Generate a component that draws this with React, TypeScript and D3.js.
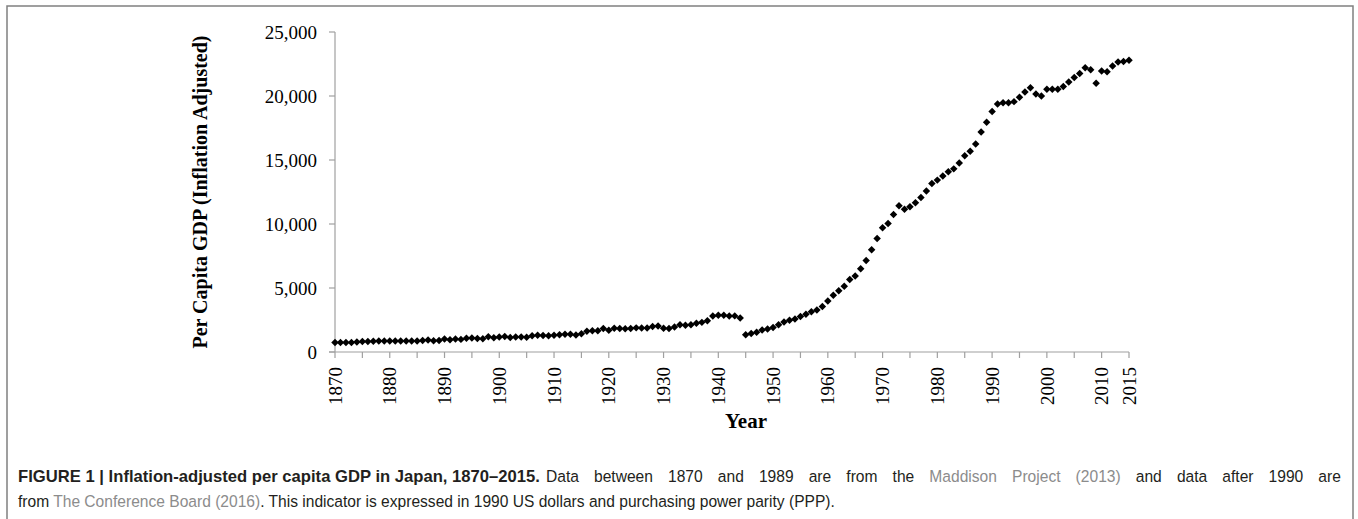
import React, { useEffect, useRef, useState } from "react";
import * as d3 from "d3";

const startYear = 1870;
const gdpValues = [
  737, 741, 746, 750, 787, 827, 818, 836, 857, 862,
  863, 853, 851, 852, 853, 862, 906, 930, 886, 901,
  1012, 948, 1015, 986, 1081, 1094, 1046, 1044, 1200, 1122,
  1180, 1208, 1125, 1180, 1177, 1144, 1266, 1302, 1296, 1270,
  1304, 1356, 1384, 1387, 1327, 1430, 1630, 1665, 1668, 1827,
  1696, 1860, 1831, 1809, 1836, 1885, 1872, 1870, 1991, 2026,
  1850, 1837, 1962, 2122, 2098, 2120, 2244, 2315, 2449, 2816,
  2874, 2873, 2818, 2822, 2659, 1346, 1444, 1541, 1725, 1800,
  1921, 2126, 2336, 2474, 2582, 2771, 2948, 3136, 3289, 3554,
  3986, 4426, 4777, 5129, 5668, 5934, 6506, 7152, 7983, 8874,
  9714, 10040, 10734, 11434, 11145, 11344, 11669, 12064, 12585, 13163,
  13428, 13754, 14078, 14307, 14773, 15331, 15679, 16251, 17185, 17943,
  18789, 19375, 19480, 19480, 19560, 19900, 20310, 20650, 20150, 20000,
  20520, 20520, 20520, 20750, 21100, 21450, 21750, 22200, 22050, 21000,
  21950, 21900, 22350, 22650, 22700, 22800,
];
const years = gdpValues.map((_, i) => startYear + i);
const yTicks = [0, 5000, 10000, 15000, 20000, 25000];
const xTickYears = d3.range(1870, 2016, 5);
const xLabelYears = [1870, 1880, 1890, 1900, 1910, 1920, 1930, 1940, 1950, 1960, 1970, 1980, 1990, 2000, 2010, 2015];
const yAxisTitle = "Per Capita GDP (Inflation Adjusted)";
const xAxisTitle = "Year";
const captionBold = "FIGURE 1 | Inflation-adjusted per capita GDP in Japan, 1870–2015.";

const W = 1358;
const H = 519;
const plot = { left: 335, right: 1129, top: 32, bottom: 352 };
const serif = "'Liberation Serif', 'Times New Roman', serif";
const sans = "'Liberation Sans', Arial, sans-serif";

const cap = { left: 18, boldEnd: 540, right: 1341, line2End: 835, y1: 482, y2: 507 };
const BASE = 14;

export default function App() {
  const x = d3.scaleLinear().domain([1870, 2015]).range([plot.left, plot.right]);
  const y = d3.scaleLinear().domain([0, 25000]).range([plot.bottom, plot.top]);
  const diamond = d3.symbol(d3.symbolSquare, 28)() as string;
  const axisColor = "#a0a0a0";
  const linkColor = "#8c8c8c";
  const textColor = "#231f20";

  const reg1Ref = useRef<SVGTextElement>(null);
  const line2Ref = useRef<SVGTextElement>(null);
  const [layout, setLayout] = useState<{ fs: number; ws: number } | null>(null);
  useEffect(() => {
    if (reg1Ref.current && line2Ref.current && !layout) {
      const l1 = reg1Ref.current.getComputedTextLength();
      const l2 = line2Ref.current.getComputedTextLength();
      const fs = (BASE * (cap.line2End - cap.left)) / l2;
      const x0 = cap.boldEnd + 6;
      const l1s = (l1 * fs) / BASE;
      const ws = (cap.right - x0 - l1s) / 15;
      setLayout({ fs, ws });
    }
  }, [layout]);
  const fs = layout ? layout.fs : BASE;
  const ws = layout ? layout.ws : 0;

  return (
    <svg width={W} height={H} style={{ position: "absolute", left: 0, top: 0, background: "#fff" }}>
      <path d={`M7,${H} V6 H1353 V${H}`} fill="none" stroke="#808080" strokeWidth={1.5} />

      {/* y axis */}
      <line x1={plot.left} x2={plot.left} y1={plot.top} y2={plot.bottom} stroke={axisColor} strokeWidth={1.2} />
      {yTicks.map((t) => (
        <g key={t}>
          <line x1={plot.left - 6} x2={plot.left} y1={y(t)} y2={y(t)} stroke={axisColor} strokeWidth={1.2} />
          <text x={317} y={y(t)} dy="0.35em" textAnchor="end" fontFamily={serif} fontSize={19} fill="#000">
            {d3.format(",")(t)}
          </text>
        </g>
      ))}

      {/* x axis */}
      <line x1={plot.left - 6} x2={plot.right} y1={plot.bottom} y2={plot.bottom} stroke={axisColor} strokeWidth={1.2} />
      {xTickYears.map((t) => (
        <line key={t} x1={x(t)} x2={x(t)} y1={plot.bottom} y2={plot.bottom + 6} stroke={axisColor} strokeWidth={1.2} />
      ))}
      {xLabelYears.map((t) => (
        <text
          key={t}
          transform={`translate(${x(t)},${plot.bottom + 15}) rotate(-90)`}
          textAnchor="end"
          dy="0.35em"
          fontFamily={serif}
          fontSize={19}
          fill="#000"
        >
          {t}
        </text>
      ))}

      {/* axis titles */}
      <text x={746} y={428} textAnchor="middle" fontFamily={serif} fontWeight="bold" fontSize={21} fill="#000">
        {xAxisTitle}
      </text>
      <text
        transform={`translate(200,${(plot.top + plot.bottom) / 2}) rotate(-90)`}
        textAnchor="middle"
        dy="0.35em"
        fontFamily={serif}
        fontWeight="bold"
        fontSize={20}
        fill="#000"
      >
        {yAxisTitle}
      </text>

      {/* points */}
      {gdpValues.map((v, i) => (
        <path key={years[i]} d={diamond} transform={`translate(${x(years[i])},${y(v)}) rotate(45)`} fill="#000" />
      ))}

      {/* caption */}
      <g fontFamily={sans} fill={textColor} fontSize={fs}>
        <text
          x={cap.left}
          y={cap.y1}
          fontWeight="bold"
          textLength={cap.boldEnd - cap.left}
          lengthAdjust="spacingAndGlyphs"
        >
          {captionBold}
        </text>
        <text ref={reg1Ref} x={cap.boldEnd + 6} y={cap.y1} wordSpacing={ws}>
          <tspan>Data between 1870 and 1989 are from the </tspan>
          <tspan fill={linkColor}>Maddison Project (2013)</tspan>
          <tspan> and data after 1990 are</tspan>
        </text>
        <text ref={line2Ref} x={cap.left} y={cap.y2}>
          <tspan>from </tspan>
          <tspan fill={linkColor}>The Conference Board (2016)</tspan>
          <tspan>. This indicator is expressed in 1990 US dollars and purchasing power parity (PPP).</tspan>
        </text>
      </g>
    </svg>
  );
}
